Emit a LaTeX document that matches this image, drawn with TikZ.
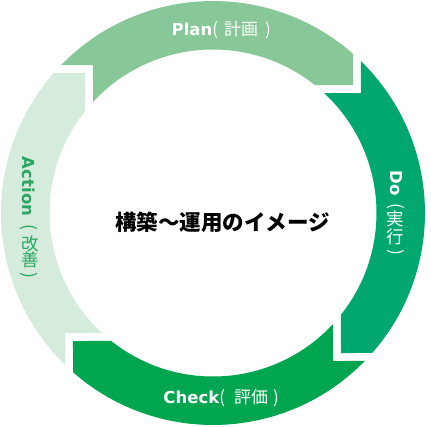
\documentclass[tikz,border=0pt]{standalone}
\usepackage{fontspec}
\setmainfont{DejaVu Sans}
\newfontfamily\cjk{Noto Sans CJK JP}
\definecolor{planc}{HTML}{88C898}
\definecolor{doc}{HTML}{00A870}
\definecolor{checkc}{HTML}{00A54F}
\definecolor{actc}{HTML}{D5EBDC}
\definecolor{acttext}{HTML}{2AA562}
\newcommand\kj[1]{{\cjk\mdseries\fontsize{17}{17}\selectfont #1}}
\tikzset{
  lat/.style={font=\fontsize{16.5}{16.5}\selectfont\bfseries, inner sep=0pt},
  kan/.style={font=\cjk\fontsize{17.5}{17.5}\selectfont, inner sep=0pt},
  ttl/.style={font=\cjk\bfseries\fontsize{21.5}{21.5}\selectfont, inner sep=0pt},
}
\newcommand\pdcaseg[2]{%
  \fill[#2, rotate=#1] ({180-asin(148/212)}:212pt)
    arc[start angle={180-asin(148/212)}, end angle={acos(140/212)}, radius=212pt]
    -- (140pt,128pt) -- ({asin(128/163.5)}:163.5pt)
    arc[start angle={asin(128/163.5)}, end angle={acos(-120/163.5)}, radius=163.5pt]
    -- (-120pt,148pt) -- cycle;}
\begin{document}
\begin{tikzpicture}[x=1pt,y=1pt]
\useasboundingbox (-213,-213) rectangle (218,213);
\pdcaseg{0}{planc}
\pdcaseg{-90}{doc}
\pdcaseg{-180}{checkc}
\pdcaseg{90}{actc}
% centre title
\node[ttl] (title) at (9.5,-9.5) {構築～運用のイメージ};
% Plan
\node[lat, text=white, anchor=base west] (plan) at (-41.5,177) {Plan\kj{(}\hspace{6pt}\kj{計画}\hspace{7pt}\kj{)}};
% Check
\node[lat, text=white, anchor=base west] (check) at (-49.7,-190.3) {Check\kj{(}\hspace{9pt}\kj{評価}\hspace{5pt}\kj{)}};
% Do
\node[lat, text=white, rotate=-90] (do) at (183,30) {Do};
\node[kan, text=white, rotate=-90] (dol) at (183,7) {(};
\node[kan, text=white] (do1) at (182,-6) {実};
\node[kan, text=white] (do2) at (182,-24) {行};
\node[kan, text=white, rotate=-90] (dor) at (183,-39) {)};
% Action
\node[lat, text=acttext, rotate=-90] (act) at (-184,26.5) {Action};
\node[kan, text=acttext, rotate=-90] (actl) at (-184,-14) {(};
\node[kan, text=acttext] (act1) at (-183,-30.5) {改};
\node[kan, text=acttext] (act2) at (-183,-47) {善};
\node[kan, text=acttext, rotate=-90] (actr) at (-184,-62) {)};
\end{tikzpicture}
\end{document}
